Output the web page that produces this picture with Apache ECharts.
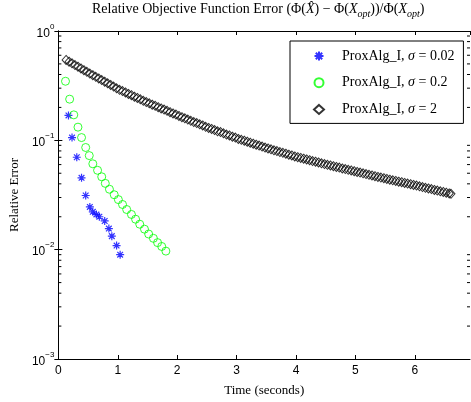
<!DOCTYPE html>
<html>
<head>
<meta charset="utf-8">
<script src="https://cdn.jsdelivr.net/npm/echarts@6/dist/echarts.min.js"></script>
<style>
html, body { margin: 0; padding: 0; background: #fff; }
#main { width: 471px; height: 402px; }
</style>
</head>
<body>
<div id="main"></div>
<script>
// sigma = 0.02
var t1 = [0.17, 0.23, 0.31, 0.39, 0.46, 0.53, 0.58, 0.64, 0.69, 0.78, 0.85, 0.90, 0.98, 1.04];
var v1 = [0.169, 0.106, 0.070, 0.0454, 0.0313, 0.0246, 0.0222, 0.0210, 0.0200, 0.0183, 0.0156, 0.0133, 0.0109, 0.0090];

// sigma = 0.2
var t2 = [0.12, 0.19, 0.26, 0.33, 0.39, 0.46, 0.52, 0.58, 0.66, 0.73, 0.79, 0.86, 0.94, 1.01, 1.08,
          1.15, 1.23, 1.30, 1.37, 1.45, 1.52, 1.60, 1.67, 1.74, 1.81];
var v2 = [0.347, 0.238, 0.171, 0.132, 0.106, 0.086, 0.0725, 0.061, 0.0532, 0.0464, 0.0404, 0.0357, 0.0318, 0.0287, 0.0259,
          0.0233, 0.0210, 0.0190, 0.0171, 0.0154, 0.0139, 0.0127, 0.0116, 0.0107, 0.0097];

// sigma = 2
var t3 = [0.13, 0.18, 0.23, 0.28, 0.33, 0.38, 0.43, 0.48, 0.53, 0.58, 0.63, 0.68, 0.73, 0.78, 0.83, 0.88, 0.93, 0.98,
          1.03, 1.08, 1.13, 1.18, 1.23, 1.28, 1.33, 1.38, 1.43, 1.48, 1.53, 1.58, 1.63, 1.68, 1.73, 1.78, 1.83, 1.88, 1.93, 1.98,
          2.03, 2.08, 2.13, 2.18, 2.23, 2.28, 2.33, 2.38, 2.43, 2.48, 2.53, 2.58, 2.63, 2.68, 2.73, 2.78, 2.83, 2.88, 2.93, 2.98,
          3.03, 3.08, 3.13, 3.18, 3.23, 3.28, 3.33, 3.38, 3.43, 3.48, 3.53, 3.58, 3.63, 3.68, 3.73, 3.78, 3.83, 3.88, 3.93, 3.98,
          4.03, 4.08, 4.13, 4.18, 4.23, 4.28, 4.33, 4.38, 4.43, 4.48, 4.53, 4.58, 4.63, 4.68, 4.73, 4.78, 4.83, 4.88, 4.93, 4.98,
          5.03, 5.08, 5.13, 5.18, 5.23, 5.28, 5.33, 5.38, 5.43, 5.48, 5.53, 5.58, 5.63, 5.68, 5.73, 5.78, 5.83, 5.88, 5.93, 5.98,
          6.03, 6.08, 6.13, 6.18, 6.23, 6.28, 6.33, 6.38, 6.43, 6.48, 6.53, 6.58, 6.61];
var v3 = [0.543, 0.524, 0.506, 0.488, 0.471, 0.454, 0.438, 0.423, 0.408, 0.394, 0.381, 0.368, 0.356, 0.344, 0.332, 0.321, 0.310, 0.299,
          0.290, 0.282, 0.274, 0.266, 0.259, 0.251, 0.244, 0.237, 0.230, 0.224, 0.218, 0.212, 0.207, 0.201, 0.196, 0.191, 0.186, 0.181, 0.176, 0.172,
          0.167, 0.163, 0.159, 0.155, 0.151, 0.147, 0.144, 0.140, 0.137, 0.133, 0.130, 0.127, 0.124, 0.121, 0.119, 0.116, 0.113, 0.111, 0.108, 0.106,
          0.103, 0.101, 0.0992, 0.0972, 0.0952, 0.0932, 0.0913, 0.0895, 0.0876, 0.0858, 0.0842, 0.0827, 0.0811, 0.0797, 0.0782, 0.0768, 0.0754, 0.0740, 0.0727, 0.0713,
          0.0701, 0.0690, 0.0679, 0.0668, 0.0658, 0.0647, 0.0637, 0.0627, 0.0617, 0.0607, 0.0597, 0.0589, 0.0580, 0.0571, 0.0563, 0.0554, 0.0546, 0.0538, 0.0530, 0.0522,
          0.0514, 0.0507, 0.0499, 0.0492, 0.0484, 0.0477, 0.0470, 0.0463, 0.0456, 0.0450, 0.0443, 0.0437, 0.0431, 0.0425, 0.0419, 0.0414, 0.0408, 0.0402, 0.0397, 0.0391,
          0.0386, 0.0380, 0.0374, 0.0368, 0.0363, 0.0358, 0.0352, 0.0347, 0.0342, 0.0337, 0.0332, 0.0327, 0.0324];

var names = ['ProxAlg_I, σ = 0.02', 'ProxAlg_I, σ = 0.2', 'ProxAlg_I, σ = 2'];
var xTicks = [0, 1, 2, 3, 4, 5, 6];
var minorTicks = [0.002, 0.003, 0.004, 0.005, 0.006, 0.007, 0.008, 0.009,
                  0.02, 0.03, 0.04, 0.05, 0.06, 0.07, 0.08, 0.09,
                  0.2, 0.3, 0.4, 0.5, 0.6, 0.7, 0.8, 0.9];
var xMax = 6.93;

function pairs(t, v) {
    return t.map(function (x, i) { return [x, v[i]]; });
}

var serif = 'Liberation Serif';
var sans = 'Liberation Sans';
var star = 'path://M0,-1L0,1M-0.71,-0.71L0.71,0.71M-0.71,0.71L0.71,-0.71M-1,0L1,0';

var chart = echarts.init(document.getElementById('main'));
chart.setOption({
    animation: false,
    title: {
        left: 92,
        top: 3,
        padding: 0,
        text: '{t|Relative Objective Function Error (Φ(}{i|X\u0302}{t|) − Φ(}{i|X}{sub|opt}{t|))/Φ(}{i|X}{sub|opt}{t|)}',
        textStyle: {
            fontWeight: 'normal',
            rich: {
                t: { fontFamily: serif, fontSize: 14, fontWeight: 'normal', lineHeight: 16, padding: [0, 0, 3, 0], color: '#000' },
                i: { fontFamily: serif, fontSize: 14, fontWeight: 'normal', lineHeight: 16, padding: [0, 0, 3, 0], fontStyle: 'italic', color: '#000' },
                sub: { fontFamily: serif, fontSize: 10, fontWeight: 'normal', lineHeight: 10, fontStyle: 'italic', verticalAlign: 'bottom', color: '#000' }
            }
        }
    },
    grid: { left: 53, right: 1, top: 31, bottom: 36 },
    legend: {
        data: names,
        orient: 'vertical',
        left: 290,
        top: 41,
        padding: [7, 9, 6, 23],
        itemWidth: 10,
        itemHeight: 9,
        itemGap: 10.7,
        backgroundColor: '#fff',
        borderColor: '#000',
        borderWidth: 1,
        borderRadius: 0,
        formatter: function (name) {
            var p = name.split('σ');
            return '{n0|' + p[0] + '}{i|σ}{n|' + p[1] + '}';
        },
        textStyle: {
            lineHeight: 16,
            rich: {
                n0: { fontFamily: serif, fontSize: 14, lineHeight: 16, color: '#000', padding: [0, 0, 0, 13] },
                n: { fontFamily: serif, fontSize: 14, lineHeight: 16, color: '#000' },
                i: { fontFamily: serif, fontSize: 14, lineHeight: 16, fontStyle: 'italic', color: '#000' }
            }
        }
    },
    xAxis: [{
        type: 'value',
        min: 0,
        max: xMax,
        interval: 1,
        name: 'Time (seconds)',
        nameLocation: 'middle',
        nameGap: 25,
        nameTextStyle: { fontFamily: serif, fontSize: 13, color: '#000' },
        axisLine: { lineStyle: { color: '#000', width: 1 } },
        axisTick: { inside: true, length: 4, lineStyle: { color: '#000' } },
        axisLabel: {
            margin: 6, fontFamily: sans, fontSize: 12, color: '#000', showMaxLabel: false,
            formatter: function (v) { return xTicks.indexOf(v) >= 0 ? String(v) : ''; }
        },
        splitLine: { show: false }
    }, {
        type: 'value',
        position: 'top',
        min: 0,
        max: xMax,
        interval: 1,
        axisLine: { lineStyle: { color: '#000', width: 1 } },
        axisTick: { inside: true, length: 4, lineStyle: { color: '#000' } },
        axisLabel: { show: false },
        splitLine: { show: false }
    }],
    yAxis: [{
        type: 'log',
        logBase: 10,
        min: 0.001,
        max: 1,
        name: 'Relative Error',
        nameLocation: 'middle',
        nameGap: 30,
        nameTextStyle: { fontFamily: serif, fontSize: 13, color: '#000' },
        axisLine: { lineStyle: { color: '#000', width: 1 } },
        axisTick: { inside: true, length: 4, lineStyle: { color: '#000' } },
        axisLabel: {
            margin: 4,
            formatter: function (v) {
                var e = Math.round(Math.log10(v));
                return '{b|10}{s|' + (e < 0 ? '−' + (-e) : e) + '}';
            },
            rich: {
                b: { fontFamily: sans, fontSize: 12, color: '#000', padding: [5, 0, 0, 0] },
                s: { fontFamily: sans, fontSize: 8, color: '#000', verticalAlign: 'top' }
            }
        },
        splitLine: { show: false }
    }, {
        type: 'log',
        logBase: 10,
        min: 0.001,
        max: 1,
        position: 'right',
        axisLine: { lineStyle: { color: '#000', width: 1 } },
        axisTick: { inside: true, length: 4, lineStyle: { color: '#000' } },
        axisLabel: { show: false },
        splitLine: { show: false }
    }],
    series: [{
        type: 'custom',
        silent: true,
        clip: false,
        data: minorTicks.map(function (v) { return [0, v]; }),
        renderItem: function (params, api) {
            var a = api.coord([0, api.value(1)]);
            var b = api.coord([xMax, api.value(1)]);
            var st = { stroke: '#000', lineWidth: 1 };
            return {
                type: 'group',
                children: [
                    { type: 'line', shape: { x1: a[0], y1: a[1], x2: a[0] + 3, y2: a[1] }, style: st },
                    { type: 'line', shape: { x1: b[0] - 3, y1: b[1], x2: b[0], y2: b[1] }, style: st }
                ]
            };
        }
    }, {
        name: names[0],
        type: 'scatter',
        data: pairs(t1, v1),
        symbol: star,
        symbolSize: 8,
        itemStyle: { color: 'rgba(0,0,0,0)', borderColor: '#0000ff', borderWidth: 1.2 }
    }, {
        name: names[1],
        type: 'scatter',
        data: pairs(t2, v2),
        symbol: 'circle',
        symbolSize: 8,
        itemStyle: { color: 'rgba(0,0,0,0)', borderColor: '#00ff00', borderWidth: 1 }
    }, {
        name: names[2],
        type: 'scatter',
        data: pairs(t3, v3),
        symbol: 'diamond',
        symbolSize: [8, 9],
        itemStyle: { color: 'rgba(0,0,0,0)', borderColor: '#000000', borderWidth: 1 }
    }]
});
</script>
</body>
</html>
